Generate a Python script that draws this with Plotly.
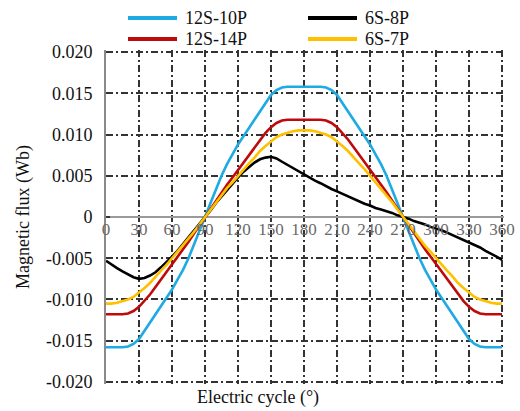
import plotly.graph_objects as go

# Electrical angle, degrees (5 degree steps over one cycle)
angle = list(range(0, 365, 5))

# Flux linkage per topology, Wb
flux_12s10p = [
    -0.0158, -0.0158, -0.0158, -0.0158, -0.0157, -0.0154, -0.0148, -0.0138, -0.0128, -0.0118,
    -0.0108, -0.0098, -0.0088, -0.0076, -0.0064, -0.0050, -0.0034, -0.0017, 0.0,
    0.0017, 0.0034, 0.0050, 0.0064, 0.0076, 0.0088, 0.0098, 0.0108, 0.0118,
    0.0128, 0.0138, 0.0148, 0.0154, 0.0157, 0.0158, 0.0158, 0.0158, 0.0158,
    0.0158, 0.0158, 0.0158, 0.0157, 0.0154, 0.0148, 0.0138, 0.0128, 0.0118,
    0.0108, 0.0098, 0.0088, 0.0076, 0.0064, 0.0050, 0.0034, 0.0017, 0.0,
    -0.0017, -0.0034, -0.0050, -0.0064, -0.0076, -0.0088, -0.0098, -0.0108, -0.0118,
    -0.0128, -0.0138, -0.0148, -0.0154, -0.0157, -0.0158, -0.0158, -0.0158, -0.0158,
]
flux_12s14p = [
    -0.0118, -0.0118, -0.0118, -0.0118, -0.0117, -0.0114, -0.0109, -0.0102, -0.0094, -0.0085,
    -0.0076, -0.0066, -0.0057, -0.0048, -0.0039, -0.0030, -0.0020, -0.0010, 0.0,
    0.0010, 0.0020, 0.0030, 0.0039, 0.0048, 0.0057, 0.0066, 0.0076, 0.0085,
    0.0094, 0.0102, 0.0109, 0.0114, 0.0117, 0.0118, 0.0118, 0.0118, 0.0118,
    0.0118, 0.0118, 0.0118, 0.0117, 0.0114, 0.0109, 0.0102, 0.0094, 0.0085,
    0.0076, 0.0066, 0.0057, 0.0048, 0.0039, 0.0030, 0.0020, 0.0010, 0.0,
    -0.0010, -0.0020, -0.0030, -0.0039, -0.0048, -0.0057, -0.0066, -0.0076, -0.0085,
    -0.0094, -0.0102, -0.0109, -0.0114, -0.0117, -0.0118, -0.0118, -0.0118, -0.0118,
]
flux_6s7p = [
    -0.0105, -0.0105, -0.0104, -0.0102, -0.0100, -0.0097, -0.0092, -0.0086, -0.0080, -0.0072,
    -0.0065, -0.0058, -0.0050, -0.0042, -0.0035, -0.0027, -0.0018, -0.0009, 0.0,
    0.0009, 0.0018, 0.0027, 0.0035, 0.0042, 0.0050, 0.0058, 0.0065, 0.0072,
    0.0080, 0.0086, 0.0092, 0.0097, 0.0100, 0.0102, 0.0104, 0.0105, 0.0105,
    0.0105, 0.0104, 0.0102, 0.0100, 0.0097, 0.0092, 0.0086, 0.0080, 0.0072,
    0.0065, 0.0058, 0.0050, 0.0042, 0.0035, 0.0027, 0.0018, 0.0009, 0.0,
    -0.0009, -0.0018, -0.0027, -0.0035, -0.0042, -0.0050, -0.0058, -0.0065, -0.0072,
    -0.0080, -0.0086, -0.0092, -0.0097, -0.0100, -0.0102, -0.0104, -0.0105, -0.0105,
]
flux_6s8p = [
    -0.0053, -0.0058, -0.0062, -0.0066, -0.0070, -0.0073, -0.0075, -0.0074, -0.0071, -0.0067,
    -0.0061, -0.0055, -0.0048, -0.0041, -0.0033, -0.0025, -0.0017, -0.0008, 0.0,
    0.0008, 0.0017, 0.0025, 0.0033, 0.0041, 0.0048, 0.0055, 0.0061, 0.0066,
    0.0070, 0.0072, 0.0073, 0.0071, 0.0067, 0.0063, 0.0059, 0.0055, 0.0051,
    0.0048, 0.0044, 0.0041, 0.0037, 0.0034, 0.0031, 0.0028, 0.0025, 0.0022,
    0.0019, 0.0016, 0.0014, 0.0011, 0.0009, 0.0007, 0.0005, 0.0002, 0.0,
    -0.0002, -0.0005, -0.0007, -0.0009, -0.0012, -0.0014, -0.0016, -0.0019, -0.0022,
    -0.0025, -0.0028, -0.0031, -0.0034, -0.0037, -0.0041, -0.0044, -0.0048, -0.0052,
]

x_ticks = list(range(0, 361, 30))
y_ticks = [-0.020, -0.015, -0.010, -0.005, 0.0, 0.005, 0.010, 0.015, 0.020]
y_tick_text = ["-0.020", "-0.015", "-0.010", "-0.005", "0", "0.005", "0.010", "0.015", "0.020"]

SERIF = "'Liberation Serif', 'Times New Roman', Times, serif"
W, H = 520, 411
M_L, M_R, M_T, M_B = 106, 16, 50, 27
PLOT_W, PLOT_H = W - M_L - M_R, H - M_T - M_B


def px_x(px):
    """Horizontal pixel -> paper fraction."""
    return (px - M_L) / PLOT_W


def px_y(py):
    """Vertical pixel (from top) -> paper fraction."""
    return (H - M_B - py) / PLOT_H


series = [
    # name, values, colour, legend row, legend column
    ("12S-10P", flux_12s10p, "#1EAAE2", 0, 0),
    ("12S-14P", flux_12s14p, "#BE0A0A", 1, 0),
    ("6S-8P", flux_6s8p, "#000000", 0, 1),
    ("6S-7P", flux_6s7p, "#FFC000", 1, 1),
]

fig = go.Figure()
for name, vals, color, _, _ in series:
    fig.add_trace(go.Scatter(
        x=angle, y=vals, name=name, mode="lines",
        line=dict(color=color, width=2.6),
    ))

# Two-column legend above the plot: line sample followed by label
legend_shapes, legend_labels = [], []
col_x = [128, 308]
row_y = [18, 39]
for name, _, color, row, col in series:
    x0 = col_x[col]
    y = px_y(row_y[row])
    legend_shapes.append(dict(
        type="line", xref="paper", yref="paper",
        x0=px_x(x0), x1=px_x(x0 + 49), y0=y, y1=y,
        line=dict(color=color, width=4),
    ))
    legend_labels.append(dict(
        text=name, xref="paper", yref="paper",
        x=px_x(x0 + 55), y=y, xanchor="left", yanchor="middle",
        showarrow=False, font=dict(family=SERIF, size=18, color="#111"),
    ))

# The ranges run ~2 px past the outer gridlines (0.020 / -0.020 / 360) so Plotly
# keeps them; they close the dash-dot frame around the plot.
grid_style = dict(showgrid=True, gridcolor="#333333", gridwidth=1.6, griddash="7px,3px,2px,3px")

fig.update_layout(
    width=W, height=H,
    margin=dict(l=M_L, r=M_R, t=M_T, b=M_B, autoexpand=False),
    paper_bgcolor="white", plot_bgcolor="white",
    font=dict(family=SERIF, size=18, color="#111"),
    showlegend=False,
    xaxis=dict(
        range=[0, 361.8], tickmode="array", tickvals=x_ticks,
        anchor="free", position=0.5,
        showline=False, zeroline=False, ticks="",
        tickfont=dict(family=SERIF, size=17, color="#6a6a6a"),
        **grid_style,
    ),
    yaxis=dict(
        range=[-0.02025, 0.02025], tickmode="array", tickvals=y_ticks, ticktext=y_tick_text,
        showline=True, linecolor="#8a8a8a", linewidth=2,
        ticks="inside", ticklen=4, tickcolor="#333", tickwidth=1.5,
        zeroline=True, zerolinecolor="#9a9a9a", zerolinewidth=2,
        ticklabelstandoff=8,
        tickfont=dict(family=SERIF, size=18, color="#111"),
        title=dict(text="Magnetic flux (Wb)", font=dict(family=SERIF, size=18, color="#111"), standoff=12),
        **grid_style,
    ),
    shapes=legend_shapes,
    annotations=legend_labels + [dict(
        text="Electric cycle (°)", xref="paper", yref="paper",
        x=px_x(258), y=px_y(397), xanchor="center", yanchor="middle",
        showarrow=False, font=dict(family=SERIF, size=18, color="#111"),
    )],
)

fig.write_html("out.html")
